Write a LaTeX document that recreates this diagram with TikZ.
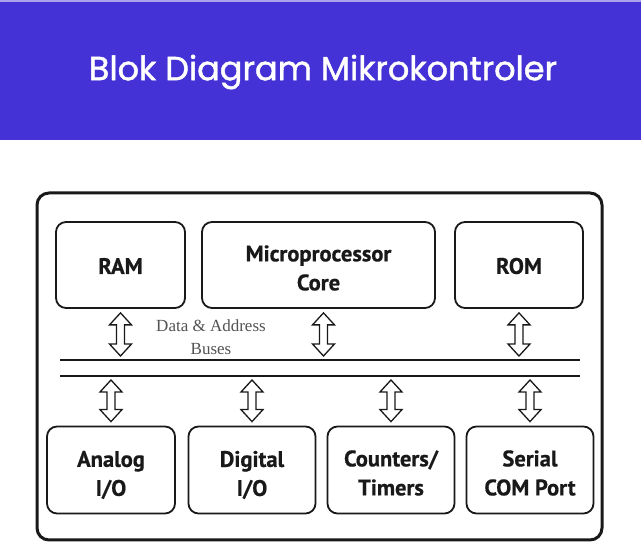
\documentclass[tikz,border=0pt]{standalone}
\usepackage{fontspec}
\setmainfont{Liberation Serif}
\newfontfamily\titlefont[FakeBold=1.3]{Poppins}
\newfontfamily\boxfont[FakeBold=0.6]{PT Sans}
\usetikzlibrary{calc}
\definecolor{hdr}{RGB}{68,50,214}
\definecolor{ink}{RGB}{25,25,25}
\tikzset{
  blk/.style={draw=ink, line width=1.8pt, rounded corners=10pt, inner sep=0pt},
  lbl/.style={align=center, inner sep=0pt, font=\boxfont\bfseries\fontsize{22.5}{29}\selectfont, text=ink},
  busline/.style={draw=ink, line width=1.3pt},
  dbl/.style={draw=ink, line width=1.3pt, fill=white, line join=miter},
}
\newcommand\busarrow[2]{%
  \path (#1) coordinate (t) (#2) coordinate (b);
  \draw[dbl] (t) -- ++(11,12) -- ++(-7,0) -- ($(b)+(4,-12)$) -- ++(7,0) -- (b)
    -- ++(-11,-12) -- ++(7,0) -- ($(t)+(-4,12)$) -- ++(-7,0) -- cycle;}
\begin{document}
\begin{tikzpicture}[x=1pt,y=-1pt]
\useasboundingbox (0,0) rectangle (641,545);
\fill[white] (0,0) rectangle (641,545);
\fill[hdr!45] (0,0) rectangle (641,2);
\fill[hdr] (0,2) rectangle (641,140);
\node[text=white, font=\titlefont\fontsize{33.5}{38}\selectfont] (title) at (323,72) {Blok Diagram Mikrokontroler};
% outer box
\node[draw=ink, line width=3pt, rounded corners=12pt, minimum width=565pt, minimum height=347pt, inner sep=0pt] (mcu) at (319.5,366.5) {};
% top blocks
\node[blk, minimum width=129pt, minimum height=86pt] (ram) at (120.5,265) {};
\node[blk, minimum width=233pt, minimum height=86pt] (cpu) at (318.5,265) {};
\node[blk, minimum width=128pt, minimum height=86pt] (rom) at (519,265) {};
\node[lbl] (ramt) at ($(ram)+(0,1)$) {RAM};
\node[lbl] (cput) at ($(cpu)+(0,3)$) {Microprocessor\\Core};
\node[lbl] (romt) at ($(rom)+(0,1)$) {ROM};
% bottom blocks
\node[blk, minimum width=128pt, minimum height=87pt] (aio) at (111,470) {};
\node[blk, minimum width=127pt, minimum height=87pt] (dio) at (252,470) {};
\node[blk, minimum width=127pt, minimum height=87pt] (cnt) at (391,470) {};
\node[blk, minimum width=127pt, minimum height=87pt] (ser) at (530,470) {};
\node[lbl] (aiot) at ($(aio)+(0,5)$) {Analog\\I/O};
\node[lbl] (diot) at ($(dio)+(0,5)$) {Digital\\I/O};
\node[lbl] (cntt) at ($(cnt)+(0,3)$) {Counters/\\Timers};
\node[lbl] (sert) at ($(ser)+(0,3)$) {Serial\\COM Port};
% buses
\coordinate (b1l) at (60,360); \coordinate (b1r) at (580,360);
\coordinate (b2l) at (60,376); \coordinate (b2r) at (580,376);
\draw[busline] (b1l) -- (b1r);
\draw[busline] (b2l) -- (b2r);
\node[font=\fontsize{17}{23}\selectfont, align=center, text=ink!75] (buslabel) at (211,337) {Data \& Address\\Buses};
% arrows upper
\busarrow{$(ram.south)+(0,4)$}{$(ram.south |- b1l)+(0,-4)$}
\busarrow{$(cpu.south)+(5,4)$}{$(cpu.south |- b1l)+(5,-4)$}
\busarrow{$(rom.south)+(0,4)$}{$(rom.south |- b1l)+(0,-4)$}
% arrows lower
\busarrow{$(aio.north |- b2l)+(0,4)$}{$(aio.north)+(0,-4)$}
\busarrow{$(dio.north |- b2l)+(0,4)$}{$(dio.north)+(0,-4)$}
\busarrow{$(cnt.north |- b2l)+(0,4)$}{$(cnt.north)+(0,-4)$}
\busarrow{$(ser.north |- b2l)+(0,4)$}{$(ser.north)+(0,-4)$}
\end{tikzpicture}
\end{document}
